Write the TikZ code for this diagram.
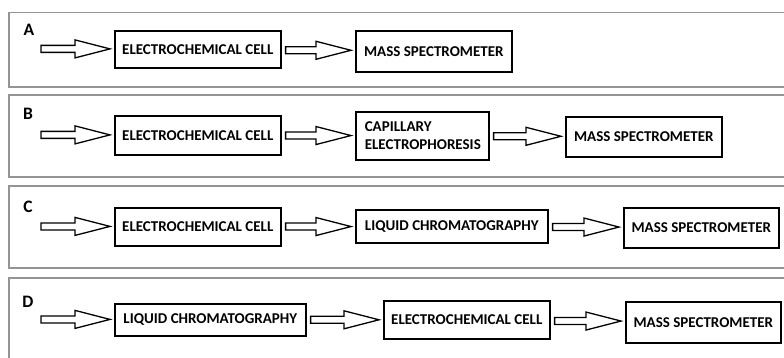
\documentclass[tikz,border=0pt]{standalone}
\usepackage{fontspec}
\setmainfont{Carlito}
\usetikzlibrary{calc}
\tikzset{
  frame/.style={draw=black!42, line width=1.3pt},
  box/.style={draw, line width=1.6pt, inner sep=0pt, anchor=north west,
    font=\bfseries\fontsize{15}{18}\selectfont},
  barrow/.style={draw, line width=1.3pt, fill=white, line join=miter},
  lab/.style={font=\bfseries\fontsize{17.5}{17.5}\selectfont},
}
% block arrow from point #1 (start) to point #2 (target side); gaps of 4pt
\newcommand\blockarrow[2]{%
  \draw[barrow] let \p1=#1, \p2=#2, \n1={(\y1+\y2)/2} in
    (\x1+4pt,\n1+3.5pt) -- (\x2-39pt,\n1+3.5pt) -- (\x2-39pt,\n1+9pt) --
    (\x2-4pt,\n1) -- (\x2-39pt,\n1-9pt) -- (\x2-39pt,\n1-3.5pt) --
    (\x1+4pt,\n1-3.5pt) -- cycle;}
\begin{document}
\begin{tikzpicture}[x=1pt,y=-1pt]
\useasboundingbox (0,0) rectangle (784,358);
\clip (0,0) rectangle (784,358);
% frames
\draw[frame] (9,12.5) rectangle (800,87);
\draw[frame] (9,95) rectangle (800,177);
\draw[frame] (9,186) rectangle (800,268);
\draw[frame] (9,278) rectangle (800,380);
% labels
\node[lab] (la) at (29,30) {A};
\node[lab] (lb) at (28,114) {B};
\node[lab] (lc) at (28,207) {C};
\node[lab] (ld) at (28,302) {D};
% Panel A
\node[box, minimum width=166, minimum height=37] (ecA) at (114,30) {ELECTROCHEMICAL CELL};
\node[box, minimum width=156, minimum height=41] (msA) at (355,30) {MASS SPECTROMETER};
\coordinate (sA) at (37,48.5);
\blockarrow{(sA)}{(ecA.west)}
\blockarrow{(ecA.east)}{(msA.west)}
% Panel B
\node[box, minimum width=166, minimum height=39] (ecB) at (114,115) {ELECTROCHEMICAL CELL};
\node[box, inner xsep=9pt, text width=115, align=left, minimum height=48] (ceB) at (355,111) {CAPILLARY\\ELECTROPHORESIS};
\node[box, minimum width=156, minimum height=40] (msB) at (565,116) {MASS SPECTROMETER};
\coordinate (sB) at (37,134.5);
\blockarrow{(sB)}{(ecB.west)}
\blockarrow{(ecB.east)}{(ceB.west)}
\blockarrow{(ceB.east)}{(msB.west)}
% Panel C
\node[box, minimum width=166, minimum height=38] (ecC) at (114,207) {ELECTROCHEMICAL CELL};
\node[box, minimum width=192, minimum height=33] (lcC) at (355,209) {LIQUID CHROMATOGRAPHY};
\node[box, minimum width=155, minimum height=40] (msC) at (623,207) {MASS SPECTROMETER};
\coordinate (sC) at (37,226);
\blockarrow{(sC)}{(ecC.west)}
\blockarrow{(ecC.east)}{(lcC.west)}
\blockarrow{(lcC.east)}{(msC.west)}
% Panel D
\node[box, minimum width=191, minimum height=32] (lcD) at (114,303) {LIQUID CHROMATOGRAPHY};
\node[box, minimum width=166, minimum height=38] (ecD) at (383,300) {ELECTROCHEMICAL CELL};
\node[box, minimum width=155, minimum height=41] (msD) at (625,301) {MASS SPECTROMETER};
\coordinate (sD) at (37,319);
\blockarrow{(sD)}{(lcD.west)}
\blockarrow{(lcD.east)}{(ecD.west)}
\blockarrow{(ecD.east)}{(msD.west)}
\end{tikzpicture}
\end{document}
